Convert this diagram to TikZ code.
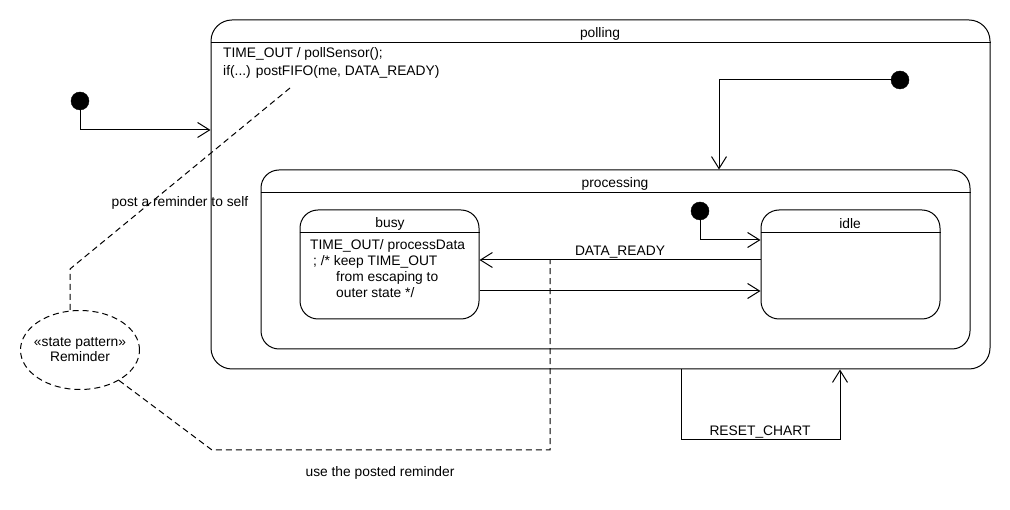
\documentclass[tikz,border=0pt]{standalone}
\usepackage{fontspec}
\setmainfont{Liberation Sans}
\usetikzlibrary{shapes.geometric,arrows.meta}

\tikzset{
  stbox/.style={rectangle, draw, line width=1pt, rounded corners=18pt, inner sep=0pt},
  init/.style={circle, draw, fill=black, minimum size=18pt, inner sep=0pt},
  trans/.style={line width=1pt, -{Straight Barb[length=12pt, width=15pt, line width=1pt]}},
  note/.style={line width=1pt, dash pattern=on 6pt off 4pt},
  divider/.style={line width=1pt}
}

\begin{document}
\begin{tikzpicture}[x=1pt, y=-1pt, every node/.style={inner sep=0pt, font=\fontsize{13.8}{18}\selectfont}]
			\useasboundingbox (0,0) rectangle (1010,510);
			
			\node[stbox, rounded corners=21pt, minimum width=779pt, minimum height=349pt] (poll) at (600.5,194.5) {};
			\node[stbox, minimum width=709pt, minimum height=179pt] (proc) at (615.5,259.5) {};
			\node[stbox, minimum width=179pt, minimum height=109pt] (busy) at (389.5,264.5) {};
			\node[stbox, minimum width=179pt, minimum height=109pt] (idle) at (850.5,264.5) {};
			
			\draw[divider] (poll.west |- 0,43) -- (poll.east |- 0,43);
			\draw[divider] (proc.west |- 0,193) -- (proc.east |- 0,193);
			\draw[divider] (busy.west |- 0,233) -- (busy.east |- 0,233);
			\draw[divider] (idle.west |- 0,233) -- (idle.east |- 0,233);
			
			\node (pollT) at (600,34) {polling};
			\node (procT) at (615,184) {processing};
			\node (busyT) at (390,224) {busy};
			\node (idleT) at (850,224) {idle};
			
			\node[anchor=north west, align=left] (pollA) at (223,47) {TIME\_OUT / pollSensor();\\if(...) postFIFO(me, DATA\_READY)};
			\node[anchor=north west, align=left, font=\fontsize{13.8}{16}\selectfont] (busyA) at (310,239)
				{TIME\_OUT/ processData\\\hspace*{3pt}; /* keep TIME\_OUT\\\hspace*{26pt}from escaping to\\\hspace*{26pt}outer state */};
			
			\node[init] (I1) at (80,101) {};
			\node[init] (I2) at (900,80) {};
			\node[init] (I3) at (700,211) {};
			
			\draw[trans] (I1) |- (poll.west |- 0,130);
			\draw[trans] (I2) -| (proc.north -| 719,0);
			\draw[trans] (I3) |- (idle.west |- 0,240);
			
			\draw[trans] (idle.west |- 0,260) -- (busy.east |- 0,260);
			\draw[trans] (busy.east |- 0,291) -- (idle.west |- 0,291);
			\node (dataT) at (620,252) {DATA\_READY};
			
			\draw[trans] (poll.south -| 681,0) -- (681,440) -- (840,440) -- (poll.south -| 840,0);
			\node (resetT) at (760,432) {RESET\_CHART};
			
			\node[ellipse, draw, note, inner xsep=-6pt, minimum width=119pt, minimum height=79pt, align=center,
				font=\fontsize{13.8}{15}\selectfont] (rem) at (80,350) {«state pattern»\\Reminder};
			
			\coordinate (postEnd) at (290,88);
			\coordinate (useEnd) at (550,260);
			\draw[note] (rem.north -| 70,0) -- (70,269) -- (postEnd);
			\draw[note] (rem.-38) -- (212,450) -- (550,450) -- (useEnd);
			
			\node (postT) at (180,203) {post a reminder to self};
			\node (useT) at (380,473) {use the posted reminder};
		\end{tikzpicture}
\end{document}
